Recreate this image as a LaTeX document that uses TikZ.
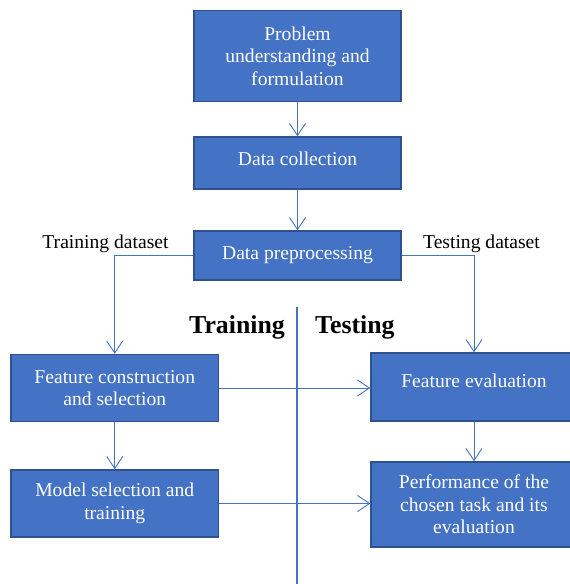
\documentclass[tikz,border=0pt]{standalone}
\usepackage{fontspec}
\setmainfont{Liberation Serif}
\usetikzlibrary{arrows.meta}
\definecolor{boxblue}{HTML}{4472C4}
\definecolor{boxedge}{HTML}{2F528F}
\begin{document}
\begin{tikzpicture}[x=1pt,y=-1pt,
  stagebox/.style={draw=boxedge, fill=boxblue, line width=1.4pt, inner sep=0pt,
    text=white, align=center, font=\fontsize{19.6}{22.6}\selectfont},
  caption/.style={inner sep=0pt, font=\fontsize{19.6}{22.6}\selectfont},
  heading/.style={inner sep=0pt, font=\fontsize{25.8}{28}\selectfont\bfseries},
  flow/.style={draw=boxblue, line width=0.9pt, -{Straight Barb[length=12pt,width=16pt,line width=0.9pt]}},
  divider/.style={draw=boxblue, line width=2pt}]
\useasboundingbox (0,0) rectangle (570,584);
\clip (0,0) rectangle (570,584);

% upper pipeline
\node[stagebox, minimum width=207pt, minimum height=91pt] (b1) at (297.5,56)
  {Problem\\understanding and\\formulation};
\node[stagebox, minimum width=207pt, minimum height=52pt, text depth=9.4pt] (b2) at (297.5,163)
  {Data collection};
\node[stagebox, minimum width=207pt, minimum height=49pt] (b3) at (297.5,255.5)
  {Data preprocessing};

% training side
\node[stagebox, minimum width=207.5pt, minimum height=67pt] (b4) at (114.75,388)
  {Feature construction\\and selection};
\node[stagebox, minimum width=207.5pt, minimum height=67pt] (b5) at (114.75,503.5)
  {Model selection and\\training};

% testing side
\node[stagebox, minimum width=206pt, minimum height=68pt, text depth=13.4pt] (b6) at (474,387)
  {Feature evaluation};
\node[stagebox, minimum width=206pt, minimum height=85pt] (b7) at (474,504.5)
  {Performance of the\\chosen task and its\\evaluation};

% dataset labels and section headings
\node[caption, anchor=base] (trainlbl) at (105.5,248) {Training dataset};
\node[caption, anchor=base] (testlbl) at (481.5,248) {Testing dataset};
\node[heading, anchor=base east] (trainhd) at (285,333) {Training};
\node[heading, anchor=base west] (testhd) at (315,333) {Testing};

% divider between training and testing
\coordinate (dtop) at (297,307);
\coordinate (dbot) at (297,584);
\draw[divider] (dtop) -- (dbot);

% connectors
\draw[flow] (b1) -- (b2);
\draw[flow] (b2) -- (b3);
\draw[flow] (b3.west) -| (b4.north);
\draw[flow] (b3.east) -| (b6.north);
\draw[flow] (b4) -- (b5);
\draw[flow] (b6) -- (b7);
\draw[flow] (b4.east) -- (b4.east -| b6.west);
\draw[flow] (b5.east) -- (b5.east -| b7.west);
\end{tikzpicture}
\end{document}
